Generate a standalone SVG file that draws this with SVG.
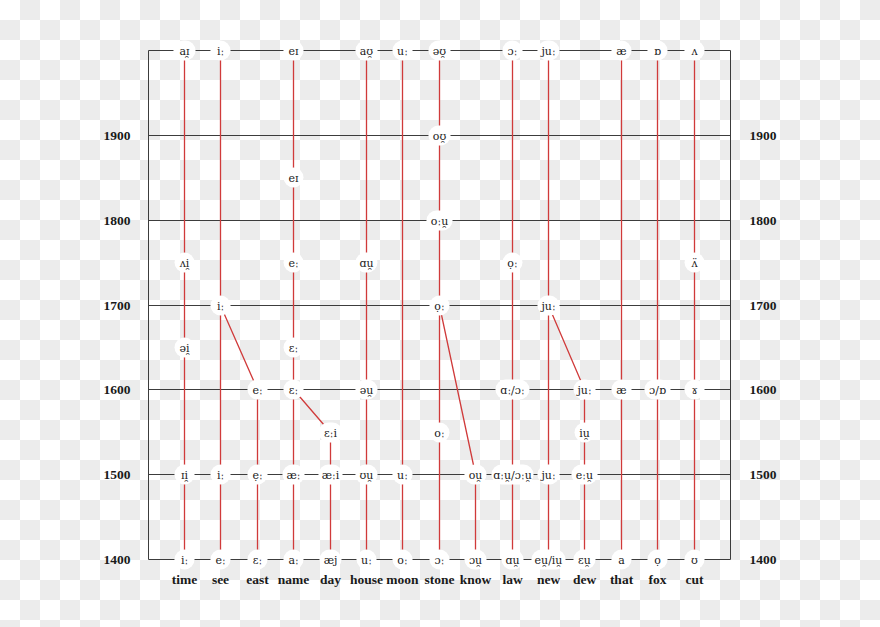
<svg xmlns="http://www.w3.org/2000/svg" width="880" height="627" viewBox="0 0 880 627">
<defs>
<pattern id="chk" width="40" height="40" patternUnits="userSpaceOnUse">
<rect width="40" height="40" fill="#ffffff"/>
<rect x="20" y="0" width="20" height="20" fill="#ececec"/>
<rect x="0" y="20" width="20" height="20" fill="#ececec"/>
</pattern>
<style>
.grid{stroke:#3c3c3c;stroke-width:1;fill:none}
.red{stroke:#d03a3a;stroke-width:1.3;fill:none}
.n rect{fill:#ffffff}
.n text{font-family:"DejaVu Serif","Liberation Serif",serif;font-size:11px;text-anchor:middle;fill:#1a1a1a}
.yr,.word{font-family:"Liberation Serif","DejaVu Serif",serif;font-weight:bold;font-size:13.5px;text-anchor:middle;fill:#1a1a1a}
</style>
</defs>
<rect width="880" height="627" fill="url(#chk)"/>
<g id="grid">
<path class="grid" d="M148.5,50.5H730.5M148.5,135.5H730.5M148.5,220.5H730.5M148.5,305.5H730.5M148.5,389.5H730.5M148.5,474.5H730.5M148.5,559.5H730.5M148.5,50.5V559.5M730.5,50.5V559.5"/>
</g>
<g id="years">
<text class="yr" x="117" y="140">1900</text><text class="yr" x="763" y="140">1900</text>
<text class="yr" x="117" y="225">1800</text><text class="yr" x="763" y="225">1800</text>
<text class="yr" x="117" y="310">1700</text><text class="yr" x="763" y="310">1700</text>
<text class="yr" x="117" y="394">1600</text><text class="yr" x="763" y="394">1600</text>
<text class="yr" x="117" y="479">1500</text><text class="yr" x="763" y="479">1500</text>
<text class="yr" x="117" y="564">1400</text><text class="yr" x="763" y="564">1400</text>
</g>
<g id="connectors">
<path class="red" d="M184.5,50.5V559.5M220.5,50.5V559.5M257.5,389.5V559.5M293.5,50.5V559.5M330.5,432.5V559.5M366.5,50.5V559.5M402.5,50.5V559.5M439.5,50.5V559.5M475.5,474.5V559.5M512.5,50.5V559.5M548.5,50.5V559.5M584.5,389.5V559.5M621.5,50.5V559.5M657.5,50.5V559.5M694.5,50.5V559.5"/>
<path class="red" d="M220.5,305.5L257.5,389.5M293.5,389.5L330.5,432.5M439.5,305.5L475.5,474.5M548.5,305.5L584.5,389.5"/>
</g>
<g id="nodes">
<g id="time-2000" class="n" transform="translate(184.5,50.5)"><rect x="-11" y="-10" width="22" height="20" rx="10"/><text y="4">aɪ̯</text></g>
<g id="see-2000" class="n" transform="translate(220.5,50.5)"><rect x="-10" y="-10" width="20" height="20" rx="10"/><text y="4">iː</text></g>
<g id="name-2000" class="n" transform="translate(293.5,50.5)"><rect x="-10" y="-10" width="20" height="20" rx="10"/><text y="4">eɪ</text></g>
<g id="house-2000" class="n" transform="translate(366.5,50.5)"><rect x="-11" y="-10" width="22" height="20" rx="10"/><text y="4">aʊ̯</text></g>
<g id="moon-2000" class="n" transform="translate(402.5,50.5)"><rect x="-10" y="-10" width="20" height="20" rx="10"/><text y="4">uː</text></g>
<g id="stone-2000" class="n" transform="translate(439.5,50.5)"><rect x="-11" y="-10" width="22" height="20" rx="10"/><text y="4">əʊ̯</text></g>
<g id="law-2000" class="n" transform="translate(512.5,50.5)"><rect x="-10" y="-10" width="20" height="20" rx="10"/><text y="4">ɔː</text></g>
<g id="new-2000" class="n" transform="translate(548.5,50.5)"><rect x="-11" y="-10" width="22" height="20" rx="10"/><text y="4">juː</text></g>
<g id="that-2000" class="n" transform="translate(621.5,50.5)"><rect x="-10" y="-10" width="20" height="20" rx="10"/><text y="4">æ</text></g>
<g id="fox-2000" class="n" transform="translate(657.5,50.5)"><rect x="-10" y="-10" width="20" height="20" rx="10"/><text y="4">ɒ</text></g>
<g id="cut-2000" class="n" transform="translate(694.5,50.5)"><rect x="-10" y="-10" width="20" height="20" rx="10"/><text y="4">ʌ</text></g>
<g id="stone-1900" class="n" transform="translate(439.5,135.5)"><rect x="-11" y="-10" width="22" height="20" rx="10"/><text y="4">oʊ̯</text></g>
<g id="name-1850" class="n" transform="translate(293.5,177.5)"><rect x="-10" y="-10" width="20" height="20" rx="10"/><text y="4">eɪ</text></g>
<g id="stone-1800" class="n" transform="translate(439.5,220.5)"><rect x="-13" y="-10" width="26" height="20" rx="10"/><text y="4">oːu̯</text></g>
<g id="time-1750" class="n" transform="translate(184.5,262.5)"><rect x="-10" y="-10" width="20" height="20" rx="10"/><text y="4">ʌi̯</text></g>
<g id="name-1750" class="n" transform="translate(293.5,262.5)"><rect x="-10" y="-10" width="20" height="20" rx="10"/><text y="4">eː</text></g>
<g id="house-1750" class="n" transform="translate(366.5,262.5)"><rect x="-11" y="-10" width="22" height="20" rx="10"/><text y="4">ɑu̯</text></g>
<g id="law-1750" class="n" transform="translate(512.5,262.5)"><rect x="-10" y="-10" width="20" height="20" rx="10"/><text y="4">ọː</text></g>
<g id="cut-1750" class="n" transform="translate(694.5,262.5)"><rect x="-10" y="-10" width="20" height="20" rx="10"/><text y="4">ʌ̈</text></g>
<g id="see-1700" class="n" transform="translate(220.5,305.5)"><rect x="-10" y="-10" width="20" height="20" rx="10"/><text y="4">iː</text></g>
<g id="stone-1700" class="n" transform="translate(439.5,305.5)"><rect x="-10" y="-10" width="20" height="20" rx="10"/><text y="4">ọː</text></g>
<g id="new-1700" class="n" transform="translate(548.5,305.5)"><rect x="-11" y="-10" width="22" height="20" rx="10"/><text y="4">juː</text></g>
<g id="time-1650" class="n" transform="translate(184.5,347.5)"><rect x="-10" y="-10" width="20" height="20" rx="10"/><text y="4">əi̯</text></g>
<g id="name-1650" class="n" transform="translate(293.5,347.5)"><rect x="-10" y="-10" width="20" height="20" rx="10"/><text y="4">ɛː</text></g>
<g id="east-1600" class="n" transform="translate(257.5,389.5)"><rect x="-10" y="-10" width="20" height="20" rx="10"/><text y="4">eː</text></g>
<g id="name-1600" class="n" transform="translate(293.5,389.5)"><rect x="-10" y="-10" width="20" height="20" rx="10"/><text y="4">ɛː</text></g>
<g id="house-1600" class="n" transform="translate(366.5,389.5)"><rect x="-11" y="-10" width="22" height="20" rx="10"/><text y="4">əu̯</text></g>
<g id="law-1600" class="n" transform="translate(512.5,389.5)"><rect x="-17" y="-10" width="34" height="20" rx="10"/><text y="4">ɑː/ɔː</text></g>
<g id="dew-1600" class="n" transform="translate(584.5,389.5)"><rect x="-11" y="-10" width="22" height="20" rx="10"/><text y="4">juː</text></g>
<g id="that-1600" class="n" transform="translate(621.5,389.5)"><rect x="-10" y="-10" width="20" height="20" rx="10"/><text y="4">æ</text></g>
<g id="fox-1600" class="n" transform="translate(657.5,389.5)"><rect x="-13" y="-10" width="26" height="20" rx="10"/><text y="4">ɔ/ɒ</text></g>
<g id="cut-1600" class="n" transform="translate(694.5,389.5)"><rect x="-10" y="-10" width="20" height="20" rx="10"/><text y="4">ɤ</text></g>
<g id="day-1550" class="n" transform="translate(330.5,432.5)"><rect x="-12" y="-10" width="24" height="20" rx="10"/><text y="4">ɛːi</text></g>
<g id="stone-1550" class="n" transform="translate(439.5,432.5)"><rect x="-10" y="-10" width="20" height="20" rx="10"/><text y="4">oː</text></g>
<g id="dew-1550" class="n" transform="translate(584.5,432.5)"><rect x="-10" y="-10" width="20" height="20" rx="10"/><text y="4">iu̯</text></g>
<g id="time-1500" class="n" transform="translate(184.5,474.5)"><rect x="-10" y="-10" width="20" height="20" rx="10"/><text y="4">ɪi̯</text></g>
<g id="see-1500" class="n" transform="translate(220.5,474.5)"><rect x="-10" y="-10" width="20" height="20" rx="10"/><text y="4">iː</text></g>
<g id="east-1500" class="n" transform="translate(257.5,474.5)"><rect x="-10" y="-10" width="20" height="20" rx="10"/><text y="4">ẹː</text></g>
<g id="name-1500" class="n" transform="translate(293.5,474.5)"><rect x="-11" y="-10" width="22" height="20" rx="10"/><text y="4">æː</text></g>
<g id="day-1500" class="n" transform="translate(330.5,474.5)"><rect x="-12" y="-10" width="24" height="20" rx="10"/><text y="4">æːi</text></g>
<g id="house-1500" class="n" transform="translate(366.5,474.5)"><rect x="-11" y="-10" width="22" height="20" rx="10"/><text y="4">ʊu̯</text></g>
<g id="moon-1500" class="n" transform="translate(402.5,474.5)"><rect x="-10" y="-10" width="20" height="20" rx="10"/><text y="4">uː</text></g>
<g id="know-1500" class="n" transform="translate(475.5,474.5)"><rect x="-11" y="-10" width="22" height="20" rx="10"/><text y="4">ou̯</text></g>
<g id="law-1500" class="n" transform="translate(512.5,474.5)"><rect x="-21" y="-10" width="42" height="20" rx="10"/><text y="4">ɑːu̯/ɔːu̯</text></g>
<g id="new-1500" class="n" transform="translate(548.5,474.5)"><rect x="-11" y="-10" width="22" height="20" rx="10"/><text y="4">juː</text></g>
<g id="dew-1500" class="n" transform="translate(584.5,474.5)"><rect x="-13" y="-10" width="26" height="20" rx="10"/><text y="4">eːu̯</text></g>
<g id="time-1400" class="n" transform="translate(184.5,559.5)"><rect x="-10" y="-10" width="20" height="20" rx="10"/><text y="4">iː</text></g>
<g id="see-1400" class="n" transform="translate(220.5,559.5)"><rect x="-10" y="-10" width="20" height="20" rx="10"/><text y="4">eː</text></g>
<g id="east-1400" class="n" transform="translate(257.5,559.5)"><rect x="-10" y="-10" width="20" height="20" rx="10"/><text y="4">ɛː</text></g>
<g id="name-1400" class="n" transform="translate(293.5,559.5)"><rect x="-10" y="-10" width="20" height="20" rx="10"/><text y="4">aː</text></g>
<g id="day-1400" class="n" transform="translate(330.5,559.5)"><rect x="-11" y="-10" width="22" height="20" rx="10"/><text y="4">æj</text></g>
<g id="house-1400" class="n" transform="translate(366.5,559.5)"><rect x="-10" y="-10" width="20" height="20" rx="10"/><text y="4">uː</text></g>
<g id="moon-1400" class="n" transform="translate(402.5,559.5)"><rect x="-10" y="-10" width="20" height="20" rx="10"/><text y="4">oː</text></g>
<g id="stone-1400" class="n" transform="translate(439.5,559.5)"><rect x="-10" y="-10" width="20" height="20" rx="10"/><text y="4">ɔː</text></g>
<g id="know-1400" class="n" transform="translate(475.5,559.5)"><rect x="-11" y="-10" width="22" height="20" rx="10"/><text y="4">ɔu̯</text></g>
<g id="law-1400" class="n" transform="translate(512.5,559.5)"><rect x="-11" y="-10" width="22" height="20" rx="10"/><text y="4">ɑu̯</text></g>
<g id="new-1400" class="n" transform="translate(548.5,559.5)"><rect x="-17" y="-10" width="34" height="20" rx="10"/><text y="4">eu̯/iu̯</text></g>
<g id="dew-1400" class="n" transform="translate(584.5,559.5)"><rect x="-11" y="-10" width="22" height="20" rx="10"/><text y="4">ɛu̯</text></g>
<g id="that-1400" class="n" transform="translate(621.5,559.5)"><rect x="-10" y="-10" width="20" height="20" rx="10"/><text y="4">a</text></g>
<g id="fox-1400" class="n" transform="translate(657.5,559.5)"><rect x="-10" y="-10" width="20" height="20" rx="10"/><text y="4">ọ</text></g>
<g id="cut-1400" class="n" transform="translate(694.5,559.5)"><rect x="-10" y="-10" width="20" height="20" rx="10"/><text y="4">ʊ</text></g>
</g>
<g id="words">
<text class="word" x="184.5" y="584">time</text>
<text class="word" x="220.5" y="584">see</text>
<text class="word" x="257.5" y="584">east</text>
<text class="word" x="293.5" y="584">name</text>
<text class="word" x="330.5" y="584">day</text>
<text class="word" x="366.5" y="584">house</text>
<text class="word" x="402.5" y="584">moon</text>
<text class="word" x="439.5" y="584">stone</text>
<text class="word" x="475.5" y="584">know</text>
<text class="word" x="512.5" y="584">law</text>
<text class="word" x="548.5" y="584">new</text>
<text class="word" x="584.5" y="584">dew</text>
<text class="word" x="621.5" y="584">that</text>
<text class="word" x="657.5" y="584">fox</text>
<text class="word" x="694.5" y="584">cut</text>
</g>
</svg>
